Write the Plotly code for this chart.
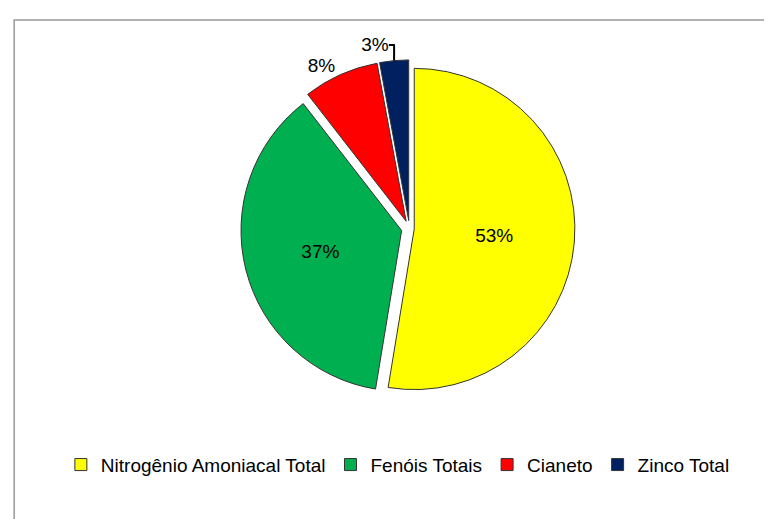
import plotly.graph_objects as go

labels = ["Nitrogênio Amoniacal Total", "Fenóis Totais", "Cianeto", "Zinco Total"]
values = [52.6, 36.9, 7.6, 2.9]
colors = ["#FFFF00", "#00B050", "#FF0000", "#002060"]

fig = go.Figure(go.Pie(
    labels=labels,
    values=values,
    sort=False,
    direction="clockwise",
    rotation=0,
    pull=[0.03, 0.05, 0.05, 0.05],
    marker=dict(colors=colors, line=dict(color="#333333", width=1)),
    texttemplate="%{percent:.0%}",
    textposition=["inside", "inside", "outside", "outside"],
    textfont=dict(family="Liberation Sans, Arial, sans-serif", size=19, color="black"),
    insidetextorientation="horizontal",
    outsidetextfont=dict(color="black"),
    domain=dict(x=[0.22, 0.82], y=[0.25, 0.9]),
    hoverinfo="label+percent",
))

fig.update_layout(
    width=772, height=519,
    margin=dict(l=0, r=0, t=0, b=0),
    paper_bgcolor="white",
    plot_bgcolor="white",
    font=dict(family="Liberation Sans, Arial, sans-serif", size=19, color="black"),
    legend=dict(orientation="h", x=0.505, xanchor="center", y=0.12, yanchor="middle",
                font=dict(size=19), itemwidth=30, traceorder="normal"),
    shapes=[dict(type="rect", xref="paper", yref="paper",
                 x0=0.008, x1=1.01, y0=-0.01, y1=0.977,
                 line=dict(color="#999999", width=1.5))],
)

fig.write_html("out.html")
